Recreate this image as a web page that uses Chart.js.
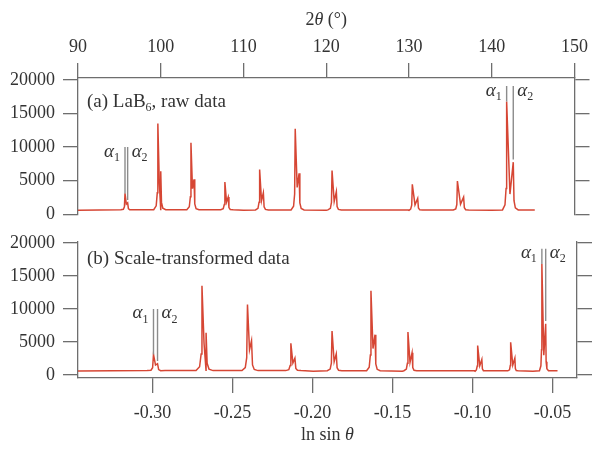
<!DOCTYPE html>
<html>
<head>
<meta charset="utf-8">
<script src="https://cdn.jsdelivr.net/npm/chart.js@4.4.0/dist/chart.umd.min.js"></script>
<style>
  body { margin: 0; background: #fff; }
  #wrap { position: relative; width: 593px; height: 450px; }
  canvas { position: absolute; left: 0; }
</style>
</head>
<body>
<div id="wrap">
  <canvas id="topChart" width="593" height="233" style="top:0"></canvas>
  <canvas id="botChart" width="593" height="227" style="top:223px"></canvas>
</div>
<script>
// LaB6 peaks, 2theta (deg), K-alpha1 and K-alpha2
var peak2theta1 = [95.68, 99.65, 103.65, 107.75, 111.95, 116.25, 120.7, 130.4, 135.85, 141.8];
var peak2theta2 = [96.0, 100.0, 104.02, 108.15, 112.4, 116.72, 121.22, 131.05, 136.6, 142.6];
var peakInt1 = [3100, 13500, 10650, 4800, 6650, 12750, 6500, 4450, 4950, 16800];
var peakInt2 = [1700, 6400, 5200, 2550, 3200, 6100, 3350, 2350, 2550, 7750];
var valleyInt = [1500, 4800, 3800, 1800, 2000, 4000, 1900, 1400, 1500, 3000];

// background level
var base2theta = [90, 100, 110, 120, 130, 140, 145.2];
var baseInt = [600, 600, 580, 580, 560, 580, 620];

var topTicks = [90, 100, 110, 120, 130, 140, 150];
var botTicks = [-0.30, -0.25, -0.20, -0.15, -0.10, -0.05];
var yTicks = [0, 5000, 10000, 15000, 20000];

// which doublets get the alpha1/alpha2 markers, and how high the marker lines start
var alphaPeaks = [0, 9];
var alphaTop = [10000, 19100];

var lineCol = 'rgb(214,70,52)';
var axisCol = '#6e6e6e';
var textCol = '#333';
var FONT = '"Liberation Serif", "Times New Roman", serif';

function baseAt(t) {
  var b = baseInt[0];
  for (var i = 0; i < base2theta.length; i++) if (base2theta[i] <= t) b = baseInt[i];
  return b;
}

// build the profile (2theta, counts)
function buildProfile() {
  var pts = [];
  for (var i = 0; i < base2theta.length; i++) pts.push([base2theta[i], baseInt[i]]);
  for (var k = 0; k < peak2theta1.length; k++) {
    var a1 = peak2theta1[k], a2 = peak2theta2[k], b = baseAt(a1);
    pts.push([a1 - 0.5, b + 60]);
    pts.push([a1 - 0.2, b + 0.05 * (peakInt1[k] - b)]);
    pts.push([a1 - 0.07, b + 0.2 * (peakInt1[k] - b)]);
    pts.push([a1, peakInt1[k]]);
    pts.push([(a1 + a2) / 2, valleyInt[k]]);
    pts.push([a2, peakInt2[k]]);
    pts.push([a2 + 0.09, b + 0.2 * (peakInt2[k] - b)]);
    pts.push([a2 + 0.25, b + 0.05 * (peakInt2[k] - b)]);
    pts.push([a2 + 0.6, b + 60]);
  }
  pts.sort(function(p, q) { return p[0] - q[0]; });
  return pts;
}

function lnSin(tt) {
  return Math.log(Math.sin(tt / 2 * Math.PI / 180));
}

var profile = buildProfile();
var rawData = profile.map(function(p) { return {x: p[0], y: p[1]}; });
var lnData = profile.map(function(p) { return {x: lnSin(p[0]), y: p[1]}; });

// text with italic / subscript pieces
function rich(ctx, parts, x, y, align, size) {
  var w = 0;
  var fonts = parts.map(function(p) {
    return (p.it ? 'italic ' : '') + (p.sub ? Math.round(size * 0.65) : size) + 'px ' + FONT;
  });
  parts.forEach(function(p, i) { ctx.font = fonts[i]; w += ctx.measureText(p.t).width; });
  var cx = align == 'right' ? x - w : (align == 'center' ? x - w / 2 : x);
  parts.forEach(function(p, i) {
    ctx.font = fonts[i];
    ctx.fillText(p.t, cx, y + (p.sub ? size * 0.22 : 0));
    cx += ctx.measureText(p.t).width;
  });
}

var deco = {
  id: 'deco',
  afterDatasetsDraw: function(chart, args, o) {
    var ctx = chart.ctx, xs = chart.scales.x, ys = chart.scales.y, ca = chart.chartArea;
    var tx = o.tx;
    ctx.save();
    ctx.fillStyle = textCol;
    ctx.textAlign = 'left';
    ctx.textBaseline = 'alphabetic';
    alphaPeaks.forEach(function(k, j) {
      var p1 = xs.getPixelForValue(tx(peak2theta1[k]));
      var p2 = xs.getPixelForValue(tx(peak2theta2[k]));
      var top = ys.getPixelForValue(alphaTop[j]);
      ctx.strokeStyle = '#8c8c8c';
      ctx.lineWidth = 1.4;
      ctx.beginPath();
      ctx.moveTo(p1, top); ctx.lineTo(p1, ys.getPixelForValue(peakInt1[k]));
      ctx.moveTo(p2, top); ctx.lineTo(p2, ys.getPixelForValue(peakInt2[k] + 400));
      ctx.stroke();
      rich(ctx, [{t: 'α', it: true}, {t: '1', sub: true}], p1 - 5, top + 9.5, 'right', 19);
      rich(ctx, [{t: 'α', it: true}, {t: '2', sub: true}], p2 + 4, top + 9.5, 'left', 19);
    });
    rich(ctx, o.label, ca.left + 9, o.labelY, 'left', 19);
    rich(ctx, o.title, (ca.left + ca.right) / 2, o.titleY, 'center', 18);
    ctx.restore();
  }
};

function setTicks(vals) {
  return function(s) { s.ticks = vals.map(function(v) { return {value: v}; }); };
}

function yScales(min, max) {
  return {
    y: {
      min: min, max: max, position: 'left',
      afterBuildTicks: setTicks(yTicks),
      afterFit: function(s) { s.width = 78; },
      grid: {drawOnChartArea: false, tickLength: 15, color: axisCol, lineWidth: 1.3},
      border: {color: axisCol, width: 1.3},
      ticks: {font: {family: FONT, size: 18}, color: textCol, padding: 8,
              callback: function(v) { return String(v); }}
    },
    yR: {
      min: min, max: max, position: 'right',
      afterBuildTicks: setTicks(yTicks),
      afterFit: function(s) { s.width = 16; },
      grid: {drawOnChartArea: false, tickLength: 15, color: axisCol, lineWidth: 1.3},
      border: {color: axisCol, width: 1.3},
      ticks: {display: false}
    }
  };
}

function makeChart(id, data, xScale, ymin, ymax, pad, deco_o) {
  var scales = yScales(ymin, ymax);
  scales.x = xScale;
  return new Chart(document.getElementById(id).getContext('2d'), {
    type: 'scatter',
    data: {datasets: [{
      data: data, showLine: true, borderColor: lineCol, borderWidth: 1.5,
      pointRadius: 0, tension: 0
    }]},
    options: {
      responsive: false, animation: false,
      layout: {padding: pad},
      plugins: {legend: {display: false}, tooltip: {enabled: false}, deco: deco_o},
      scales: scales
    },
    plugins: [deco]
  });
}

// (a) raw data vs 2theta
makeChart('topChart', rawData, {
  type: 'linear', position: 'top', min: 90, max: 150,
  afterBuildTicks: setTicks(topTicks),
  afterFit: function(s) { s.height = 78; },
  grid: {drawOnChartArea: false, tickLength: 15, color: axisCol, lineWidth: 1.3},
  border: {color: axisCol, width: 1.3},
  ticks: {font: {family: FONT, size: 18}, color: textCol, padding: 5}
}, 0, 20300, {left: 0, right: 0, top: 0, bottom: 4}, {
  tx: function(t) { return t; },
  label: [{t: '(a) LaB'}, {t: '6', sub: true}, {t: ', raw data'}], labelY: 107,
  title: [{t: '2'}, {t: 'θ', it: true}, {t: ' (°)'}], titleY: 25
});

// (b) same counts vs ln sin theta
makeChart('botChart', lnData, {
  type: 'linear', position: 'bottom', min: lnSin(90), max: lnSin(150),
  afterBuildTicks: setTicks(botTicks),
  afterFit: function(s) { s.height = 72; },
  grid: {drawOnChartArea: false, tickLength: 15, color: axisCol, lineWidth: 1.3},
  border: {color: axisCol, width: 1.3},
  ticks: {font: {family: FONT, size: 18}, color: textCol, padding: 9,
          callback: function(v) { return v.toFixed(2); }}
}, -460, 20150, {left: 0, right: 0, top: 18, bottom: 0}, {
  tx: lnSin,
  label: [{t: '(b) Scale-transformed data'}], labelY: 41,
  title: [{t: 'ln sin '}, {t: 'θ', it: true}], titleY: 217
});
</script>
</body>
</html>
